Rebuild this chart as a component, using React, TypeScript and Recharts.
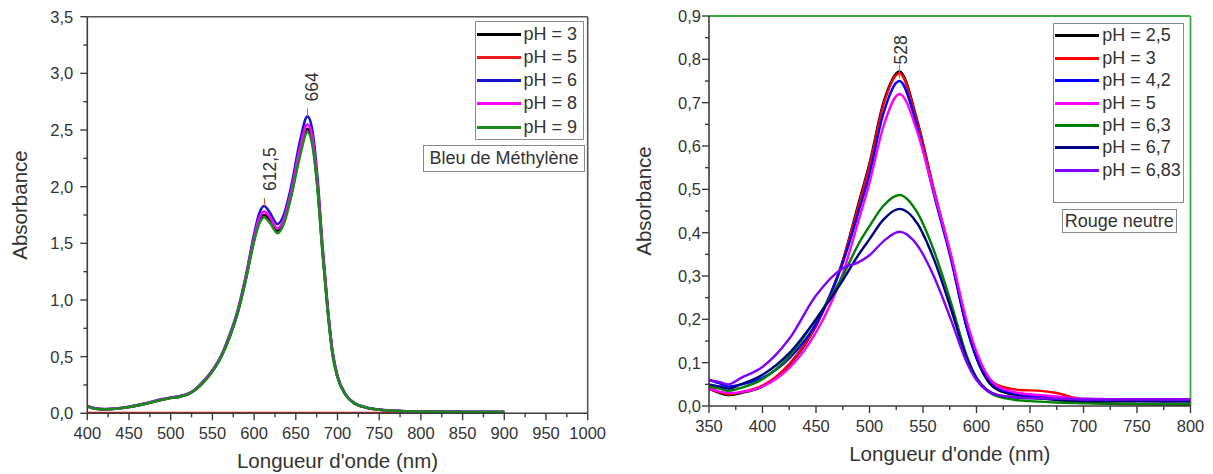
import React from 'react';
import { LineChart, Line, XAxis, YAxis, ReferenceLine, ReferenceDot } from 'recharts';

const FONT = '"Liberation Sans", Arial, Helvetica, sans-serif';
const AXIS = '#3c3c3c';
const TEXT = '#333333';

// ---------- Left chart: Bleu de Méthylène ----------
const L_WAVELENGTHS = [400, 410, 420, 430, 450, 470, 490, 500, 510, 520, 530, 540, 550, 560, 570, 580, 590, 600, 606, 612, 619, 628, 636, 645, 655, 664, 670, 676, 682, 688, 694, 700, 710, 720, 735, 750, 775, 800, 850, 900];
const L_PH3 = [0.06, 0.04, 0.035, 0.038, 0.055, 0.085, 0.12, 0.135, 0.145, 0.165, 0.21, 0.28, 0.37, 0.49, 0.66, 0.88, 1.18, 1.53, 1.69, 1.75, 1.70, 1.61, 1.70, 1.95, 2.30, 2.51, 2.39, 2.0, 1.43, 0.93, 0.53, 0.32, 0.16, 0.09, 0.05, 0.032, 0.02, 0.015, 0.012, 0.012];
const L_PH5 = [0.003, 0.003, 0.003, 0.003, 0.003, 0.003, 0.003, 0.003, 0.003, 0.003, 0.003, 0.003, 0.003, 0.003, 0.003, 0.003, 0.003, 0.003, 0.003, 0.003, 0.003, 0.003, 0.003, 0.003, 0.003, 0.003, 0.003, 0.003, 0.003, 0.003, 0.003, 0.003, 0.003, 0.003, 0.003, 0.003, 0.003, 0.003, 0.003, 0.003];
const L_PH6 = [0.065, 0.045, 0.038, 0.04, 0.058, 0.088, 0.125, 0.14, 0.15, 0.17, 0.215, 0.29, 0.38, 0.5, 0.68, 0.9, 1.21, 1.58, 1.76, 1.83, 1.77, 1.67, 1.76, 2.02, 2.40, 2.62, 2.49, 2.08, 1.48, 0.96, 0.55, 0.33, 0.165, 0.092, 0.05, 0.033, 0.02, 0.016, 0.013, 0.013];
const L_PH8 = [0.062, 0.042, 0.036, 0.039, 0.056, 0.086, 0.122, 0.137, 0.147, 0.167, 0.212, 0.285, 0.375, 0.495, 0.67, 0.89, 1.2, 1.55, 1.72, 1.78, 1.73, 1.63, 1.72, 1.98, 2.34, 2.55, 2.43, 2.03, 1.45, 0.94, 0.54, 0.325, 0.162, 0.09, 0.05, 0.032, 0.02, 0.015, 0.012, 0.012];
const L_PH9 = [0.06, 0.04, 0.035, 0.038, 0.055, 0.085, 0.12, 0.135, 0.145, 0.165, 0.21, 0.28, 0.37, 0.49, 0.66, 0.88, 1.18, 1.52, 1.67, 1.73, 1.68, 1.59, 1.68, 1.93, 2.27, 2.48, 2.36, 1.98, 1.42, 0.92, 0.52, 0.32, 0.16, 0.09, 0.05, 0.032, 0.02, 0.015, 0.012, 0.012];
const L_NAMES = ['pH = 3', 'pH = 5', 'pH = 6', 'pH = 8', 'pH = 9'];
const L_COLORS = ['#000000', '#e8191b', '#1515d0', '#ff00ff', '#1a8a1a'];
const L_SERIES = [L_PH3, L_PH5, L_PH6, L_PH8, L_PH9];
const L_X_TICKS = [400, 425, 450, 475, 500, 525, 550, 575, 600, 625, 650, 675, 700, 725, 750, 775, 800, 825, 850, 875, 900, 925, 950, 975, 1000];
const L_Y_TICKS = [0, 0.25, 0.5, 0.75, 1, 1.25, 1.5, 1.75, 2, 2.25, 2.5, 2.75, 3, 3.25, 3.5];
const L_PEAKS = [{ x: 612.5, y: 1.83, label: '612,5' }, { x: 664, y: 2.62, label: '664' }];

// ---------- Right chart: Rouge neutre ----------
const R_WAVELENGTHS = [350, 360, 368, 380, 400, 425, 450, 475, 490, 500, 513, 528, 545, 560, 576, 591, 600, 610, 620, 640, 660, 675, 690, 700, 750, 800];
const R_PH25 = [0.04, 0.03, 0.025, 0.03, 0.045, 0.095, 0.185, 0.335, 0.47, 0.56, 0.7, 0.772, 0.655, 0.5, 0.345, 0.18, 0.11, 0.06, 0.037, 0.024, 0.018, 0.014, 0.01, 0.008, 0.004, 0.003];
const R_PH3 = [0.04, 0.032, 0.027, 0.032, 0.047, 0.097, 0.187, 0.335, 0.465, 0.555, 0.695, 0.768, 0.652, 0.5, 0.348, 0.185, 0.118, 0.07, 0.048, 0.037, 0.035, 0.03, 0.02, 0.016, 0.013, 0.012];
const R_PH42 = [0.06, 0.052, 0.045, 0.05, 0.065, 0.11, 0.19, 0.33, 0.45, 0.535, 0.675, 0.75, 0.64, 0.49, 0.34, 0.18, 0.112, 0.065, 0.04, 0.027, 0.022, 0.02, 0.017, 0.016, 0.015, 0.015];
const R_PH5 = [0.04, 0.033, 0.03, 0.032, 0.045, 0.088, 0.17, 0.305, 0.43, 0.515, 0.645, 0.72, 0.63, 0.495, 0.35, 0.195, 0.125, 0.072, 0.045, 0.03, 0.025, 0.022, 0.018, 0.016, 0.015, 0.015];
const R_PH63 = [0.045, 0.04, 0.035, 0.042, 0.062, 0.115, 0.2, 0.3, 0.375, 0.415, 0.462, 0.487, 0.445, 0.36, 0.24, 0.115, 0.065, 0.035, 0.022, 0.013, 0.01, 0.008, 0.007, 0.006, 0.005, 0.004];
const R_PH67 = [0.05, 0.045, 0.04, 0.05, 0.072, 0.122, 0.2, 0.29, 0.35, 0.385, 0.43, 0.455, 0.42, 0.34, 0.225, 0.11, 0.065, 0.037, 0.025, 0.019, 0.017, 0.015, 0.013, 0.012, 0.011, 0.01];
const R_PH683 = [0.06, 0.055, 0.05, 0.065, 0.09, 0.155, 0.255, 0.318, 0.332, 0.348, 0.38, 0.402, 0.37, 0.3, 0.2, 0.1, 0.06, 0.035, 0.025, 0.02, 0.018, 0.017, 0.016, 0.015, 0.015, 0.015];
const R_NAMES = ['pH = 2,5', 'pH = 3', 'pH = 4,2', 'pH = 5', 'pH = 6,3', 'pH = 6,7', 'pH = 6,83'];
const R_COLORS = ['#000000', '#ff0000', '#0000ff', '#ff00ff', '#008000', '#000080', '#8000ff'];
const R_SERIES = [R_PH25, R_PH3, R_PH42, R_PH5, R_PH63, R_PH67, R_PH683];
const R_X_TICKS = [350, 375, 400, 425, 450, 475, 500, 525, 550, 575, 600, 625, 650, 675, 700, 725, 750, 775, 800];
const R_Y_TICKS = [0, 0.05, 0.1, 0.15, 0.2, 0.25, 0.3, 0.35, 0.4, 0.45, 0.5, 0.55, 0.6, 0.65, 0.7, 0.75, 0.8, 0.85, 0.9];
const R_PEAKS = [{ x: 528, y: 0.772, label: '528' }];

const buildRows = (wls: number[], series: number[][]) =>
  wls.map((wl, i) => {
    const row: Record<string, number> = { wl };
    series.forEach((s, k) => { row['s' + k] = s[i]; });
    return row;
  });

const leftData = buildRows(L_WAVELENGTHS, L_SERIES);
const rightData = buildRows(R_WAVELENGTHS, R_SERIES);

const isMajor = (v: number, step: number) => Math.abs(v / step - Math.round(v / step)) < 1e-6;
const fmt1 = (v: number) => v.toFixed(1).replace('.', ',');
const fmt0 = (v: number) => String(Math.round(v));

const makeYTick = (step: number, gap: number) => (props: any) => {
  const { x, y, payload } = props;
  const v = payload.value;
  const major = isMajor(v, step);
  return (
    <g>
      <line x1={x} x2={x - (major ? 7 : 4)} y1={y} y2={y} stroke={AXIS} strokeWidth={1.4} />
      {major && (
        <text x={x - gap} y={y} dy="0.36em" textAnchor="end" fontSize={16.5} fontFamily={FONT} fill={TEXT}>
          {fmt1(v)}
        </text>
      )}
    </g>
  );
};

const makeXTick = (step: number) => (props: any) => {
  const { x, y, payload } = props;
  const v = payload.value;
  const major = isMajor(v, step);
  return (
    <g>
      <line x1={x} x2={x} y1={y} y2={y + (major ? 7 : 4)} stroke={AXIS} strokeWidth={1.4} />
      {major && (
        <text x={x} y={y + 26} textAnchor="middle" fontSize={16.5} fontFamily={FONT} fill={TEXT}>
          {fmt0(v)}
        </text>
      )}
    </g>
  );
};

const makePeak = (label: string, tickTop: number, tickBottom: number, textGap: number, dx: number) => (props: any) => {
  const { cx, cy } = props;
  const tx = cx + dx;
  const ty = cy - textGap;
  return (
    <g>
      <line x1={cx} x2={cx} y1={cy + tickBottom} y2={cy - tickTop} stroke="#e0533a" strokeWidth={1} />
      <text x={tx} y={ty} transform={`rotate(-90 ${tx} ${ty})`} fontSize={17.5} fontFamily={FONT} fill={TEXT}>
        {label}
      </text>
    </g>
  );
};

type LegendProps = { names: string[]; colors: string[]; left: number; top: number; width: number; height: number; rowStart: number; rowGap: number };
const LegendBox = ({ names, colors, left, top, width, height, rowStart, rowGap }: LegendProps) => (
  <div style={{ position: 'absolute', left, top, width, height, border: '1.5px solid #8a8a8a', boxSizing: 'border-box', background: '#fff' }}>
    {names.map((n, i) => (
      <div key={n} style={{ position: 'absolute', left: 0, top: rowStart + i * rowGap - 11, height: 22, display: 'flex', alignItems: 'center', whiteSpace: 'nowrap' }}>
        <div style={{ width: 44, height: 3, background: colors[i], marginLeft: 1 }} />
        <span style={{ fontFamily: FONT, fontSize: 18, color: TEXT, marginLeft: 3 }}>{n}</span>
      </div>
    ))}
  </div>
);

const TitleBox = ({ text, left, top, width, height }: { text: string; left: number; top: number; width: number; height: number }) => (
  <div style={{ position: 'absolute', left, top, width, height, border: '1.5px solid #8a8a8a', boxSizing: 'border-box', background: '#fff', fontFamily: FONT, fontSize: 18, color: TEXT, display: 'flex', alignItems: 'center', justifyContent: 'center', whiteSpace: 'nowrap' }}>
    {text}
  </div>
);

const AxisTitle = ({ text, cx, baseline, vertical }: { text: string; cx: number; baseline: number; vertical?: boolean }) => {
  if (vertical) {
    return (
      <div style={{ position: 'absolute', left: baseline - 200, top: cx - 15, width: 400, height: 30, lineHeight: '30px', textAlign: 'center', transform: 'rotate(-90deg)', transformOrigin: '50% 50%', fontFamily: FONT, fontSize: 20.5, color: TEXT, whiteSpace: 'nowrap' }}>
        {text}
      </div>
    );
  }
  return (
    <div style={{ position: 'absolute', left: cx - 200, top: baseline - 24, width: 400, height: 30, lineHeight: '30px', textAlign: 'center', fontFamily: FONT, fontSize: 20.5, color: TEXT, whiteSpace: 'nowrap' }}>
      {text}
    </div>
  );
};

export default function App() {
  return (
    <div style={{ position: 'absolute', left: 0, top: 0, width: 1213, height: 474, background: '#fff', overflow: 'hidden' }}>
      {/* Left chart */}
      <div style={{ position: 'absolute', left: 0, top: 0 }}>
        <LineChart width={625} height={474} data={leftData} margin={{ top: 16.7, right: 37.3, bottom: 30.7, left: 27.3 }}>
          <XAxis dataKey="wl" type="number" domain={[400, 1000]} ticks={L_X_TICKS} interval={0} allowDataOverflow
            axisLine={{ stroke: AXIS, strokeWidth: 1.6 }} tickLine={false} tickSize={0} tickMargin={0} tick={makeXTick(50)} height={30} />
          <YAxis type="number" domain={[0, 3.5]} ticks={L_Y_TICKS} interval={0} allowDataOverflow
            axisLine={{ stroke: AXIS, strokeWidth: 1.6 }} tickLine={false} tickSize={0} tickMargin={0} tick={makeYTick(0.5, 14)} width={60} />
          <ReferenceLine y={3.5} stroke="#555" strokeWidth={1.6} />
          <ReferenceLine x={1000} stroke="#555" strokeWidth={1.6} />
          {L_NAMES.map((n, k) => (
            <Line key={n} name={n} type="monotone" dataKey={'s' + k} stroke={L_COLORS[k]} strokeWidth={2.6} dot={false} isAnimationActive={false} />
          ))}
          {L_PEAKS.map((p) => (
            <ReferenceDot key={p.label} x={p.x} y={p.y} r={2} shape={makePeak(p.label, 8, 0, 15, 11)} />
          ))}
        </LineChart>
      </div>
      <LegendBox names={L_NAMES} colors={L_COLORS} left={474.6} top={20.7} width={109} height={119.3} rowStart={12.6} rowGap={23.2} />
      <TitleBox text="Bleu de Méthylène" left={423} top={145} width={162} height={26.7} />
      <AxisTitle text="Longueur d'onde (nm)" cx={337.5} baseline={470} />
      <AxisTitle text="Absorbance" cx={205} baseline={20} vertical />

      {/* Right chart */}
      <div style={{ position: 'absolute', left: 600, top: 0 }}>
        <LineChart width={613} height={474} data={rightData} margin={{ top: 16, right: 22.5, bottom: 38, left: 49 }}>
          <XAxis dataKey="wl" type="number" domain={[350, 800]} ticks={R_X_TICKS} interval={0} allowDataOverflow
            axisLine={{ stroke: AXIS, strokeWidth: 1.6 }} tickLine={false} tickSize={0} tickMargin={0} tick={makeXTick(50)} height={30} />
          <YAxis type="number" domain={[0, 0.9]} ticks={R_Y_TICKS} interval={0} allowDataOverflow
            axisLine={{ stroke: AXIS, strokeWidth: 1.6 }} tickLine={false} tickSize={0} tickMargin={0} tick={makeYTick(0.1, 8)} width={60} />
          <ReferenceLine y={0.9} stroke="#3aaa3a" strokeWidth={1.8} />
          <ReferenceLine x={800} stroke="#3aaa3a" strokeWidth={1.8} />
          {R_NAMES.map((n, k) => (
            <Line key={n} name={n} type="monotone" dataKey={'s' + k} stroke={R_COLORS[k]} strokeWidth={2.4} dot={false} isAnimationActive={false} />
          ))}
          {R_PEAKS.map((p) => (
            <ReferenceDot key={p.label} x={p.x} y={p.y} r={2} shape={makePeak(p.label, 7, 7, 7, 8)} />
          ))}
        </LineChart>
      </div>
      <LegendBox names={R_NAMES} colors={R_COLORS} left={1053.3} top={22.7} width={130.7} height={180.6} rowStart={12.3} rowGap={22.4} />
      <TitleBox text="Rouge neutre" left={1061.7} top={209} width={115} height={24} />
      <AxisTitle text="Longueur d'onde (nm)" cx={949.75} baseline={463} />
      <AxisTitle text="Absorbance" cx={201} baseline={644} vertical />
    </div>
  );
}
